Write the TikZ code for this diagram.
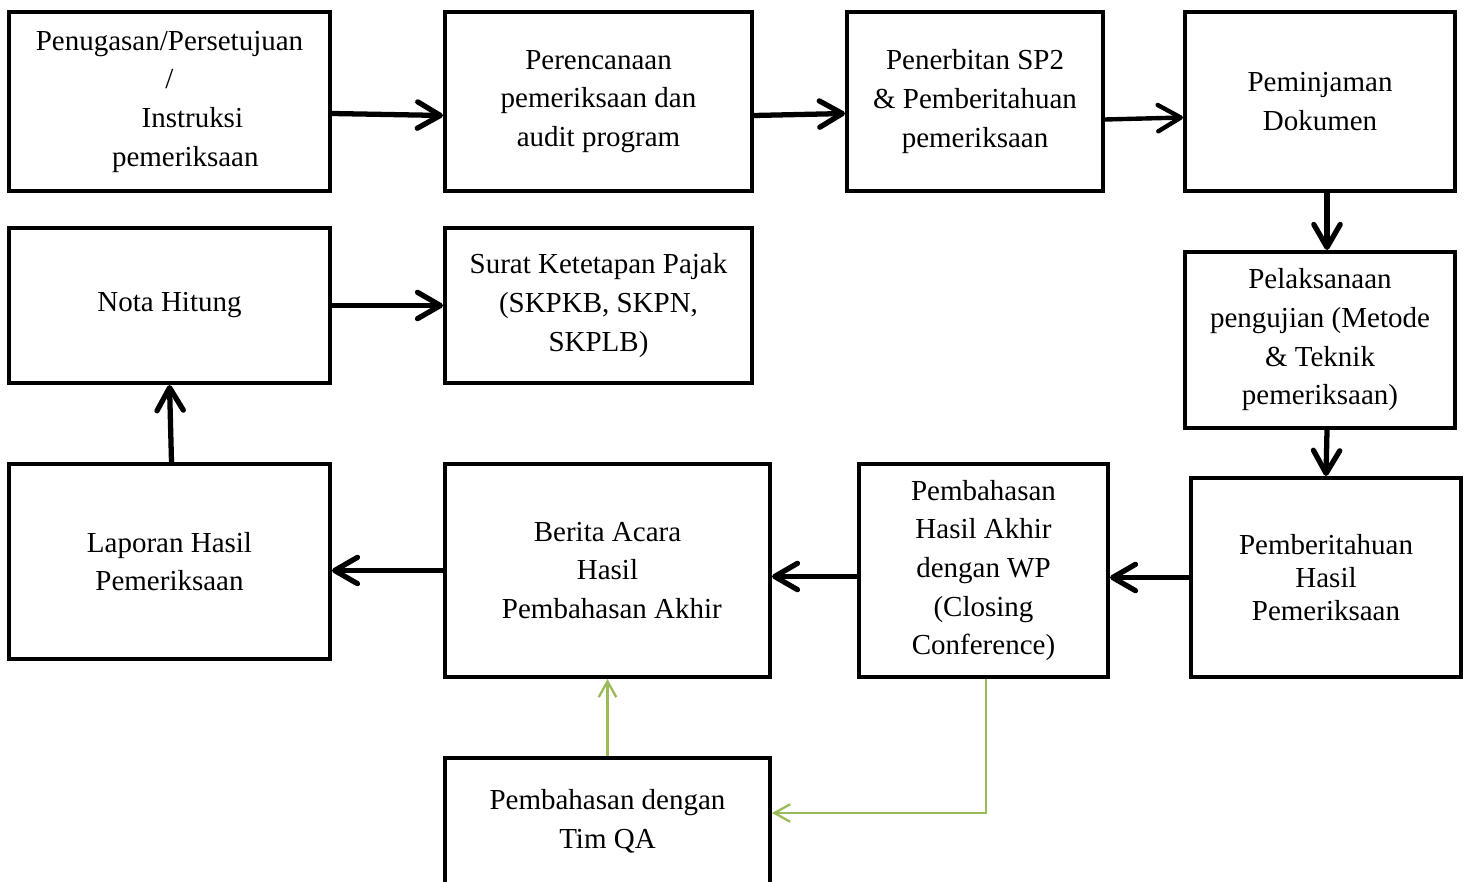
\documentclass[tikz,border=0pt]{standalone}
\usepackage{fontspec}
\setmainfont{Liberation Serif}
\usetikzlibrary{arrows.meta}
\definecolor{qagreen}{RGB}{155,187,89}

\begin{document}
\begin{tikzpicture}[>={Straight Barb[length=13pt,width=15pt,round]},
  box/.style={draw,line width=2.3pt,align=center,inner sep=2pt,
    font=\fontsize{16.5}{22}\selectfont},
  flow/.style={->,line width=3pt},
  qa/.style={-{Straight Barb[length=9pt,width=10pt]},line width=1.3pt,qagreen}]
  \useasboundingbox (0,0) rectangle (29.36,-17.64);
  % top row
  \node[box,minimum width=6.42cm,minimum height=3.58cm] (tugas) at (3.39,-2.03)
    {Penugasan/Persetujuan\\/\\\hspace*{26pt}Instruksi\\\hspace*{18pt}pemeriksaan};
  \node[box,minimum width=6.14cm,minimum height=3.58cm] (rencana) at (11.97,-2.03)
    {Perencanaan\\pemeriksaan dan\\audit program};
  \node[box,minimum width=5.12cm,minimum height=3.58cm] (sp2) at (19.5,-2.03)
    {Penerbitan SP2\\\& Pemberitahuan\\pemeriksaan};
  \node[box,minimum width=5.4cm,minimum height=3.58cm] (pinjam) at (26.4,-2.03)
    {Peminjaman\\Dokumen};
  % right column
  \node[box,minimum width=5.4cm,minimum height=3.52cm] (uji) at (26.4,-6.8)
    {Pelaksanaan\\pengujian (Metode\\\& Teknik\\pemeriksaan)};
  \node[box,minimum width=5.4cm,minimum height=3.98cm,
    font=\fontsize{16.5}{19}\selectfont] (hasil) at (26.52,-11.55)
    {Pemberitahuan\\Hasil\\Pemeriksaan};
  % bottom row
  \node[box,minimum width=4.98cm,minimum height=4.26cm] (closing) at (19.67,-11.41)
    {Pembahasan\\Hasil Akhir\\dengan WP\\(Closing\\Conference)};
  \node[box,minimum width=6.5cm,minimum height=4.26cm] (berita) at (12.15,-11.41)
    {Berita Acara\\Hasil\\\hspace*{5pt}Pembahasan Akhir};
  \node[box,minimum width=6.42cm,minimum height=3.9cm] (lhp) at (3.39,-11.23)
    {Laporan Hasil\\Pemeriksaan};
  \node[box,minimum width=6.42cm,minimum height=3.1cm] (nota) at (3.39,-6.11)
    {Nota Hitung};
  \node[box,minimum width=6.14cm,minimum height=3.1cm] (skp) at (11.97,-6.11)
    {Surat Ketetapan Pajak\\(SKPKB, SKPN,\\SKPLB)};
  \node[box,minimum width=6.5cm,minimum height=2.52cm] (timqa) at (12.15,-16.42)
    {Pembahasan dengan\\Tim QA};

  \draw[flow] ([yshift=-.24cm]tugas.east) -- ([yshift=-.28cm]rencana.west);
  \draw[flow] ([yshift=-.28cm]rencana.east) -- ([yshift=-.24cm]sp2.west);
  \draw[flow,line width=2.5pt] ([yshift=-.36cm]sp2.east) -- ([yshift=-.32cm]pinjam.west);
  \draw[flow] ([xshift=.14cm]pinjam.south) -- ([xshift=.14cm]uji.north);
  \draw[flow] ([xshift=.14cm]uji.south) -- (hasil.north);
  \draw[flow] (hasil.west) -- (hasil.west -| closing.east);
  \draw[flow] ([yshift=-.12cm]closing.west) -- ([yshift=-.12cm]closing.west -| berita.east);
  \draw[flow] (berita.west) -- (berita.west -| lhp.east);
  \draw[flow] ([xshift=.04cm]lhp.north) -- (nota.south);
  \draw[flow] (nota.east) -- (nota.east -| skp.west);
  \draw[qa] (timqa.north) -- (berita.south);
  \draw[qa] ([xshift=.05cm]closing.south) |- ([yshift=.16cm]timqa.east);
\end{tikzpicture}
\end{document}
